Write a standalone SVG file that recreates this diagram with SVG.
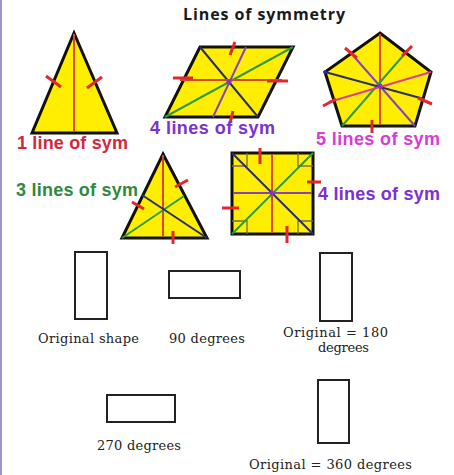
<svg xmlns="http://www.w3.org/2000/svg" width="454" height="475" viewBox="0 0 454 475">
<style>
.shape{fill:#ffee00;stroke:#111;stroke-width:3;stroke-linejoin:miter}
.red{stroke:#d9472b;stroke-width:2;fill:none}
.tick{stroke:#e3262f;stroke-width:3;fill:none;stroke-linecap:butt}
.navy{stroke:#2c2f6e;stroke-width:2;fill:none}
.green{stroke:#2f9a2f;stroke-width:2;fill:none}
.purple{stroke:#8544b8;stroke-width:2;fill:none}
.pink{stroke:#dd3f8f;stroke-width:2;fill:none}
.olive{stroke:#707048;stroke-width:1.3;fill:none}
.lbl{font-family:"Liberation Sans",Arial,sans-serif;font-weight:bold;font-size:18px}
.ser{font-family:"DejaVu Serif","Liberation Serif",serif;font-size:13px;fill:#222}
.rect{fill:#fff;stroke:#222;stroke-width:2}
</style>
<rect x="0" y="0" width="454" height="475" fill="#fff"/>
<rect x="0" y="0" width="2" height="475" fill="#9d97cc"/>

<g id="title">
<text x="264" y="20" text-anchor="middle" font-family="'Open Sans',sans-serif" font-weight="bold" font-size="16" fill="#1a1a1a" textLength="162">Lines of symmetry</text>
</g>

<g id="isosceles">
<polygon class="shape" points="74,33 117,133 32,133"/>
<line class="red" x1="74" y1="34" x2="74" y2="132"/>
<line class="tick" x1="46" y1="76" x2="61" y2="87"/>
<line class="tick" x1="87" y1="88" x2="102" y2="77"/>
<text class="lbl" x="17" y="149" fill="#d0273e" textLength="111">1 line of sym</text>
</g>

<g id="rhombus">
<polygon class="shape" points="200,47 293,47 258,117 165,117"/>
<line class="navy" x1="200" y1="47" x2="258" y2="117"/>
<line class="green" x1="165" y1="117" x2="293" y2="47"/>
<line class="red" x1="180" y1="80" x2="282" y2="80"/>
<line class="purple" x1="246" y1="47" x2="213" y2="117"/>
<circle cx="229" cy="82" r="2.5" fill="#8a2fc8"/>
<line class="tick" x1="173" y1="78" x2="193" y2="78"/>
<line class="tick" x1="267" y1="81" x2="288" y2="81"/>
<line class="tick" x1="235" y1="42" x2="230" y2="55"/>
<line class="tick" x1="233" y1="111" x2="230" y2="123"/>
<text class="lbl" x="150" y="134" fill="#7b30d4" textLength="125">4 lines of sym</text>
</g>

<g id="pentagon">
<polygon class="shape" points="380,33 431,72 415,126 342,126 325,72"/>
<line class="red" x1="380" y1="34" x2="380" y2="125"/>
<line class="purple" x1="350" y1="52" x2="415" y2="126"/>
<line class="green" x1="342" y1="126" x2="408" y2="50"/>
<line class="navy" x1="325" y1="72" x2="424" y2="99"/>
<line class="pink" x1="431" y1="72" x2="329" y2="102"/>
<circle cx="380" cy="86" r="2.5" fill="#8a2fc8"/>
<circle cx="325" cy="72" r="1.8" fill="#2c2f9e"/>
<line class="tick" x1="345" y1="48" x2="357" y2="58"/>
<line class="tick" x1="402" y1="56" x2="412" y2="46"/>
<line class="tick" x1="418" y1="98" x2="432" y2="104"/>
<line class="tick" x1="323" y1="106" x2="336" y2="99"/>
<line class="tick" x1="372" y1="120" x2="372" y2="133"/>
<text class="lbl" x="316" y="145" fill="#d93bd6" textLength="124">5 lines of sym</text>
</g>

<g id="equilateral">
<polygon class="shape" points="163,154 207,238 122,238"/>
<line class="red" x1="163" y1="155" x2="163" y2="237"/>
<line class="green" x1="122" y1="238" x2="184" y2="196"/>
<line class="navy" x1="207" y1="238" x2="142" y2="195"/>
<line class="tick" x1="175" y1="187" x2="188" y2="180"/>
<line class="tick" x1="132" y1="202" x2="144" y2="209"/>
<line class="tick" x1="173" y1="231" x2="173" y2="244"/>
<text class="lbl" x="16" y="196" fill="#2f8a3c" textLength="122">3 lines of sym</text>
</g>

<g id="square">
<rect class="shape" x="232" y="153" width="81" height="81"/>
<path class="olive" d="M247,153V166H232M298,153V166H313M247,234V221H232M298,234V221H313"/>
<line class="navy" x1="232" y1="153" x2="313" y2="234"/>
<line class="green" x1="232" y1="234" x2="313" y2="153"/>
<line class="red" x1="272" y1="154" x2="272" y2="233"/>
<line class="purple" x1="233" y1="193" x2="312" y2="193"/>
<circle cx="272" cy="193" r="2.2" fill="#8a2fc8"/>
<line class="tick" x1="260" y1="148" x2="260" y2="164"/>
<line class="tick" x1="307" y1="182" x2="321" y2="182"/>
<line class="tick" x1="222" y1="208" x2="239" y2="208"/>
<line class="tick" x1="287" y1="226" x2="287" y2="243"/>
<text class="lbl" x="318" y="200" fill="#7b30d4" textLength="122">4 lines of sym</text>
</g>

<g id="original">
<rect class="rect" x="75" y="252" width="32" height="67"/>
<text class="ser" x="38" y="343" textLength="101">Original shape</text>
</g>
<g id="deg90">
<rect class="rect" x="169" y="271" width="71" height="27"/>
<text class="ser" x="169" y="343" textLength="76">90 degrees</text>
</g>
<g id="deg180">
<rect class="rect" x="320" y="253" width="32" height="68"/>
<text class="ser" x="283" y="337" textLength="105">Original = 180</text>
<text class="ser" x="318" y="352" textLength="51">degrees</text>
</g>
<g id="deg270">
<rect class="rect" x="107" y="395" width="68" height="27"/>
<text class="ser" x="97" y="450" textLength="84">270 degrees</text>
</g>
<g id="deg360">
<rect class="rect" x="318" y="380" width="31" height="63"/>
<text class="ser" x="249" y="469" textLength="163">Original = 360 degrees</text>
</g>
<g id="connectors"/>
</svg>
